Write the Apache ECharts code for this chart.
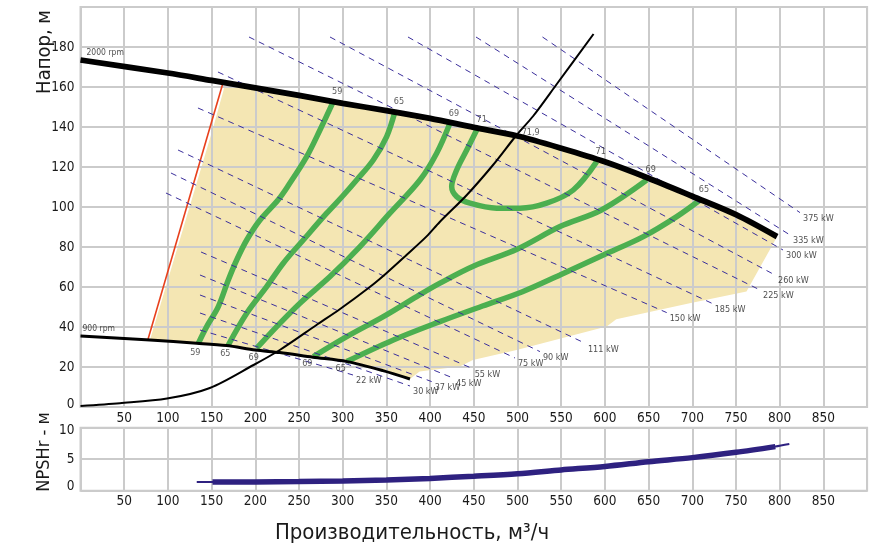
<!DOCTYPE html>
<html><head><meta charset="utf-8">
<script src="https://cdn.jsdelivr.net/npm/echarts@6/dist/echarts.min.js"></script>
<style>html,body{margin:0;padding:0;background:#fff}#c{width:877px;height:546px}</style>
</head><body><div id="c"></div>
<script>
// ---------- data ----------
const rpm2000 = [[0,173.5],[100,167],[150,163.3],[200,159.6],[250,155.8],[300,151.8],[350,148.2],[400,144.3],[450,139.8],[500,135.5],[550,129.4],[600,122.6],[650,114.4],[700,105.4],[750,96.2],[797,85.2]];
const rpm900 = [[0,35.5],[79.5,33.5],[133,31.9],[167,30.7],[200,28.5],[228,27.2],[266,24.9],[305,22.7],[346,18.2],[377,14]];
const redLine = [[77,33.5],[163,162]];
const areaLeft = [[79.5,33.5],[152,140],[165,160.5]];
const areaRight = [[793,82],[762,57.7],[697,51.9],[613,43.9],[602,40.2],[499,28.5],[449,23.5],[434,20.2],[388,17.7]];
const systemCurve = [[0,0.5],[45,1.9],[99,4.2],[148,9.5],[198,21],[228,28.5],[270,41],[297,49],[331,60],[350,66.9],[373,76],[396,85.3],[411,92.5],[442,106],[472,121],[499,136],[518,145.5],[545,161.5],[587,186.5]];
const bep = [499,136];
const bepLabel = '71,9';
const eff59 = [[134.8,31.8],[144.4,40.2],[157.7,50.2],[169.1,63.5],[178.7,73.5],[190.2,83.5],[205.4,93.5],[226,103.5],[237.4,110.5],[258.8,125.2],[274,138.5],[289.2,152.7]];
const eff65a = [[169.1,31],[190.2,46.9],[213,60.2],[232,71.9],[254.9,83.5],[281.7,96.9],[300,105.5],[316,113.5],[335,123.5],[350.3,135.2],[359.8,147.7]];
const eff69a = [[201.6,29.4],[224.5,40.2],[251.1,51.9],[285.5,65.2],[319.8,80.2],[354,96.9],[388.4,113.5],[407.5,126.9],[422.7,141.9]];
const eff71 = [[453.3,138.5],[441.9,128.5],[430.4,118.5],[424.7,110.2],[430.4,105.2],[445.7,101.9],[476.2,99.4],[502.9,99.4],[533.4,101.9],[563.8,108.5],[590.6,122.7]];
const eff69b = [[266.4,25.2],[304.6,35.2],[346.5,45.2],[384.7,55.2],[411.3,61.9],[450,70.5],[500,79],[548.6,90.2],[596,98.5],[647.8,113.5]];
const eff65b = [[304.6,22.7],[357.9,33.5],[411.3,42.7],[460,50.5],[505,57.5],[548.6,66],[598.2,76],[644,85.2],[682.2,95.2],[708.8,103.5]];
const effCurves = [eff59, eff65a, eff69a, eff71, eff69b, eff65b];
const effValues = ['59','65','69','71','69','65'];
const powerNames = ['375 kW','335 kW','300 kW','260 kW','225 kW','185 kW','150 kW','111 kW','90 kW','75 kW','55 kW','45 kW','37 kW','30 kW','22 kW'];
const powerStart = [[528.6,185],[452.5,185],[374.7,185],[285.5,185],[192.8,185],[157.3,167.5],[134.4,149.5],[111.6,128.5],[103.5,117],[97.8,107],[137.9,77.5],[136.7,66],[136.7,56],[136.7,47],[136.7,38.5]];
const powerEnd = [[823.2,97.2],[811.8,86],[803.8,78.5],[794.6,66],[777.5,58.5],[722.2,51.9],[670.7,47.2],[577.2,31.9],[525.7,27.7],[497.1,24.5],[447.6,19.4],[426.2,14.5],[401.8,12.7],[377,10.5],[311.8,16]];
const npshQ = [133,151,200,250,300,350,400,450,500,550,600,650,700,750,795,811];
const npshH = [1.4,1.4,1.4,1.45,1.55,1.7,1.95,2.3,2.7,3.3,3.85,4.6,5.25,6.1,7.0,7.4];
const yTitle1 = 'Напор, м', yTitle2 = 'NPSHr - м', xTitle = 'Производительность, м³/ч';

// ---------- chart ----------
const opArea = areaLeft
  .concat(rpm2000.filter(p=>p[0]>=200))
  .concat(areaRight)
  .concat(rpm900.filter(p=>p[0]>=133).slice().reverse());
const FONT = "'DejaVu Sans Condensed','Liberation Sans Narrow',sans-serif";
const GRID = '#cbcbcb';
const TICK_FS = 13.5;
const chart = echarts.init(document.getElementById('c'), null, {renderer:'canvas'});
const L = 80.5, W = 786.6;
const xAxisBase = (gi) => ({
  type:'value', gridIndex:gi, min:0, max:900, interval:50,
  axisLine:{show:false}, axisTick:{show:false},
  axisLabel:{showMinLabel:false, showMaxLabel:false, margin:4, fontSize:TICK_FS, fontFamily:FONT, color:'#1a1a1a'},
  splitLine:{show:true, lineStyle:{color:GRID, width:2}}
});
const series = [];
series.push({type:'custom', xAxisIndex:0, yAxisIndex:0, z:-1, silent:true, clip:true,
  data:[[0,0]],
  renderItem:(p,api)=>({type:'polygon', shape:{points:opArea.map(pt=>api.coord(pt))}, style:{fill:'#F4E6B3'}})
});
series.push({type:'line', data:redLine, showSymbol:false, lineStyle:{color:'#e8401c', width:1.6}, silent:true, z:3});
effCurves.forEach(c=>series.push({type:'line', data:c, smooth:0.35, showSymbol:false, lineStyle:{color:'#4caf50', width:5.5, cap:'butt'}, silent:true, z:4}));
powerStart.forEach((s,i)=>series.push({type:'line', data:[s, powerEnd[i]], showSymbol:false, lineStyle:{color:'#3b2f9c', width:1, type:[6,5]}, silent:true, z:5}));
series.push({type:'scatter', symbolSize:0, silent:true, z:6,
  data: powerEnd.map((p,i)=>({value:p, name:powerNames[i]})),
  label:{show:true, formatter:'{b}', position:'right', distance:3, offset:[0,6], fontSize:9, fontFamily:FONT, color:'#222'}
});
series.push({type:'line', data:systemCurve, smooth:0.3, showSymbol:false, lineStyle:{color:'#000', width:2}, silent:true, z:7});
series.push({type:'line', data:rpm2000, smooth:0.3, showSymbol:false, lineStyle:{color:'#000', width:5.8, cap:'butt'}, silent:true, z:7});
series.push({type:'line', data:rpm900, smooth:0.3, showSymbol:false, lineStyle:{color:'#000', width:3}, silent:true, z:7});
const effLabelData = [];
effCurves.forEach((c,i)=>{
  const first=c[0], last=c[c.length-1];
  if (i===3) {
    effLabelData.push({value:first, name:effValues[i], label:{offset:[5,-10]}});
  } else {
    const off = (i>=4) ? [-6,7] : [-3,9];
    effLabelData.push({value:first, name:effValues[i], label:{offset:off}});
  }
  effLabelData.push({value:last, name:effValues[i], label:{offset:[4,-10]}});
});
series.push({type:'scatter', symbolSize:0, silent:true, z:8, data:effLabelData,
  label:{show:true, formatter:'{b}', position:'inside', fontSize:9, fontFamily:FONT, color:'#333'}});
series.push({type:'scatter', symbolSize:0, silent:true, z:8, data:[{value:bep, name:bepLabel}],
  label:{show:true, formatter:'{b}', position:'right', distance:5, offset:[0,-2], fontSize:9, fontFamily:FONT, color:'#333'}});
series.push({type:'scatter', symbolSize:0, silent:true, z:8, data:[{value:rpm2000[0], name:'2000 rpm'}],
  label:{show:true, formatter:'{b}', position:'right', distance:6, offset:[0,-7], fontSize:8.5, fontFamily:FONT, color:'#222'}});
series.push({type:'scatter', symbolSize:0, silent:true, z:8, data:[{value:rpm900[0], name:'900 rpm'}],
  label:{show:true, formatter:'{b}', position:'right', distance:2, offset:[0,-7], fontSize:8.5, fontFamily:FONT, color:'#222'}});
const npsh = npshQ.map((q,i)=>[q,npshH[i]]);
series.push({type:'line', xAxisIndex:1, yAxisIndex:1, data:npsh, smooth:0.3, showSymbol:false, lineStyle:{color:'#2e2180', width:2}, silent:true});
series.push({type:'line', xAxisIndex:1, yAxisIndex:1, data:npsh.slice(1, npsh.length-1), smooth:0.3, showSymbol:false, lineStyle:{color:'#2e2180', width:5.5, cap:'butt'}, silent:true});

chart.setOption({
  animation:false,
  backgroundColor:'#fff',
  grid:[
    {left:L, top:7, width:W, height:400, show:true, borderColor:GRID, borderWidth:2},
    {left:L, top:427.7, width:W, height:63, show:true, borderColor:GRID, borderWidth:2}
  ],
  xAxis:[xAxisBase(0), xAxisBase(1)],
  yAxis:[
    {type:'value', gridIndex:0, min:0, max:200, interval:20, axisLine:{show:false}, axisTick:{show:false},
     axisLabel:{showMaxLabel:false, margin:6, fontSize:TICK_FS, fontFamily:FONT, color:'#1a1a1a',
       formatter:v=> v===0 ? '{b|0}' : String(v), rich:{b:{padding:[0,0,6,0], fontSize:TICK_FS, fontFamily:FONT, color:'#1a1a1a'}}},
     splitLine:{show:true, lineStyle:{color:GRID, width:2}}},
    {type:'value', gridIndex:1, min:0, max:10, interval:5, axisLine:{show:false}, axisTick:{show:false},
     axisLabel:{margin:6, fontSize:TICK_FS, fontFamily:FONT, color:'#1a1a1a',
       formatter:v=> v===0 ? '{b|0}' : (v===10 ? '{t|10}' : String(v)),
       rich:{b:{padding:[0,0,9,0], fontSize:TICK_FS, fontFamily:FONT, color:'#1a1a1a'}, t:{padding:[5,0,0,0], fontSize:TICK_FS, fontFamily:FONT, color:'#1a1a1a'}}},
     splitLine:{show:true, lineStyle:{color:GRID, width:2}}}
  ],
  graphic:[
    {type:'text', x:45, y:52, rotation:Math.PI/2, style:{text:yTitle1, font:"20px "+FONT, fill:'#1a1a1a', textAlign:'center', textVerticalAlign:'middle'}},
    {type:'text', x:44, y:452, rotation:Math.PI/2, style:{text:yTitle2, font:"18px "+FONT, fill:'#1a1a1a', textAlign:'center', textVerticalAlign:'middle'}},
    {type:'text', x:412, y:533, style:{text:xTitle, font:"22px "+FONT, fill:'#1a1a1a', textAlign:'center', textVerticalAlign:'middle'}}
  ],
  series: series
});
</script></body></html>
